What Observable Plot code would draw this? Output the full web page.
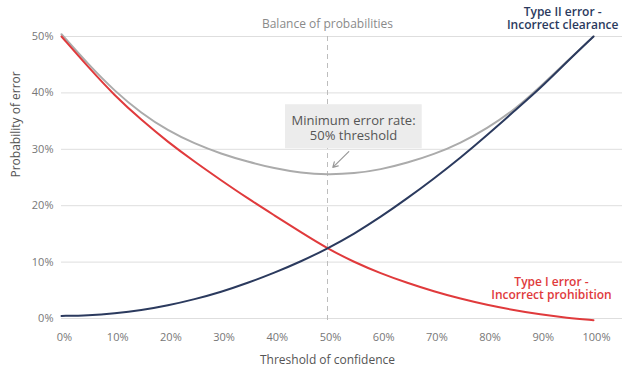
<!DOCTYPE html>
<html><head><meta charset="utf-8">
<script src="https://cdn.jsdelivr.net/npm/d3@7"></script>
<script src="https://cdn.jsdelivr.net/npm/@observablehq/plot@0.6"></script>
<style>body{margin:0;background:#fff;} svg{font-family:"Open Sans",sans-serif;}</style>
</head><body><div id="chart"></div>
<script>
const thresholds = [0,5,10,15,20,25,30,35,40,45,50,55,60,65,70,75,80,85,90,95,100];
const typeI  = [50,44.6,39.5,35.2,31.3,27.8,24.5,21.3,18.3,15.3,12.4,10.0,8.0,6.3,4.8,3.5,2.4,1.5,0.7,0.1,-0.3];
const typeII = [0.45,0.55,0.9,1.45,2.3,3.4,4.7,6.3,8.1,10.1,12.4,15.0,18.0,21.3,24.8,28.5,32.5,36.7,40.8,45.5,50];
const totalError = [50.4,45.1,40.3,36.4,33.3,31.0,29.2,27.8,26.6,25.8,25.5,25.7,26.4,27.6,29.1,31.1,33.7,36.9,41.1,45.6,50];
const xTicks = [0,10,20,30,40,50,60,70,80,90,100];
const yTicks = [0,10,20,30,40,50];
const seriesNames = ["Type I", "Type II", "Total"];
const seriesColors = ["#e03a3c", "#2b3a5e", "#ababab"];

const rows = [];
[typeI, typeII, totalError].forEach((vals, s) => {
  thresholds.forEach((t, i) => rows.push({series: seriesNames[s], t, v: vals[i]}));
});

const boxNote = [{x1: 42.1, x2: 67.8, y1: 30.1, y2: 37.9, text: "Minimum error rate:\n50% threshold", tx: 54.9, ty: 33.8}];
const arrowNote = [{x1: 54.0, y1: 29.6, x2: 51.0, y2: 26.8}];
const typeIILabel = [{text: "Type II error -\nIncorrect clearance", x: 94.2}];
const typeILabel = [{text: "Type I error -\nIncorrect prohibition", x: 92.1, y: 5.4}];

const chart = Plot.plot({
  width: 641, height: 370,
  marginLeft: 61, marginRight: 19, marginTop: 36, marginBottom: 52,
  style: {fontFamily: "'Open Sans', sans-serif", background: "#fff", overflow: "visible"},
  x: {domain: [0, 105.45]},
  y: {domain: [0, 50]},
  color: {domain: seriesNames, range: seriesColors},
  marks: [
    Plot.ruleY(yTicks, {stroke: "#dedede", strokeWidth: 1}),
    Plot.axisX({ticks: xTicks, tickFormat: d => d + "%", tickSize: 0, tickPadding: 15, fontSize: 11, color: "#777", dx: 3, label: null}),
    Plot.axisY({ticks: yTicks, tickFormat: d => d + "%", tickSize: 0, tickPadding: 8, fontSize: 11, color: "#777", label: null}),
    Plot.ruleX([50], {y1: 50, y2: -0.9, stroke: "#bdbdbd", strokeWidth: 1, strokeDasharray: "5,4"}),
    Plot.rect(boxNote, {x1: "x1", x2: "x2", y1: "y1", y2: "y2", fill: "#ececec"}),
    Plot.text(boxNote, {x: "tx", y: "ty", text: "text", fontSize: 13, fill: "#555", lineHeight: 1.15, lineAnchor: "middle"}),
    Plot.arrow(arrowNote, {x1: "x1", y1: "y1", x2: "x2", y2: "y2", stroke: "#999", strokeWidth: 1.2, headLength: 7, bend: 0}),
    Plot.line(rows.filter(d => d.series === "Total"), {x: "t", y: "v", stroke: "series", strokeWidth: 2, curve: "basis"}),
    Plot.line(rows.filter(d => d.series === "Type I"), {x: "t", y: "v", stroke: "series", strokeWidth: 2, curve: "basis"}),
    Plot.line(rows.filter(d => d.series === "Type II"), {x: "t", y: "v", stroke: "series", strokeWidth: 2, curve: "basis"}),
    Plot.text(["Balance of probabilities"], {x: 50, frameAnchor: "top", dy: -12, fontSize: 12, fill: "#8a8a8a", lineAnchor: "middle"}),
    Plot.text(typeIILabel, {x: "x", frameAnchor: "top", dy: -18.5, text: "text", fontSize: 12, fontWeight: 600, fill: "#2b3a5e", lineHeight: 1.1, lineAnchor: "middle"}),
    Plot.text(typeILabel, {x: "x", y: "y", text: "text", fontSize: 12, fontWeight: 600, fill: "#e03a3c", lineHeight: 1.1, lineAnchor: "middle"}),
    Plot.text(["Threshold of confidence"], {x: 50, frameAnchor: "bottom", dy: 42, fontSize: 12, fill: "#555", lineAnchor: "middle"}),
    Plot.text(["Probability of error"], {frameAnchor: "left", dx: -45, rotate: -90, fontSize: 12, fill: "#555", lineAnchor: "middle"})
  ]
});
document.getElementById("chart").appendChild(chart);
</script>
</body></html>
